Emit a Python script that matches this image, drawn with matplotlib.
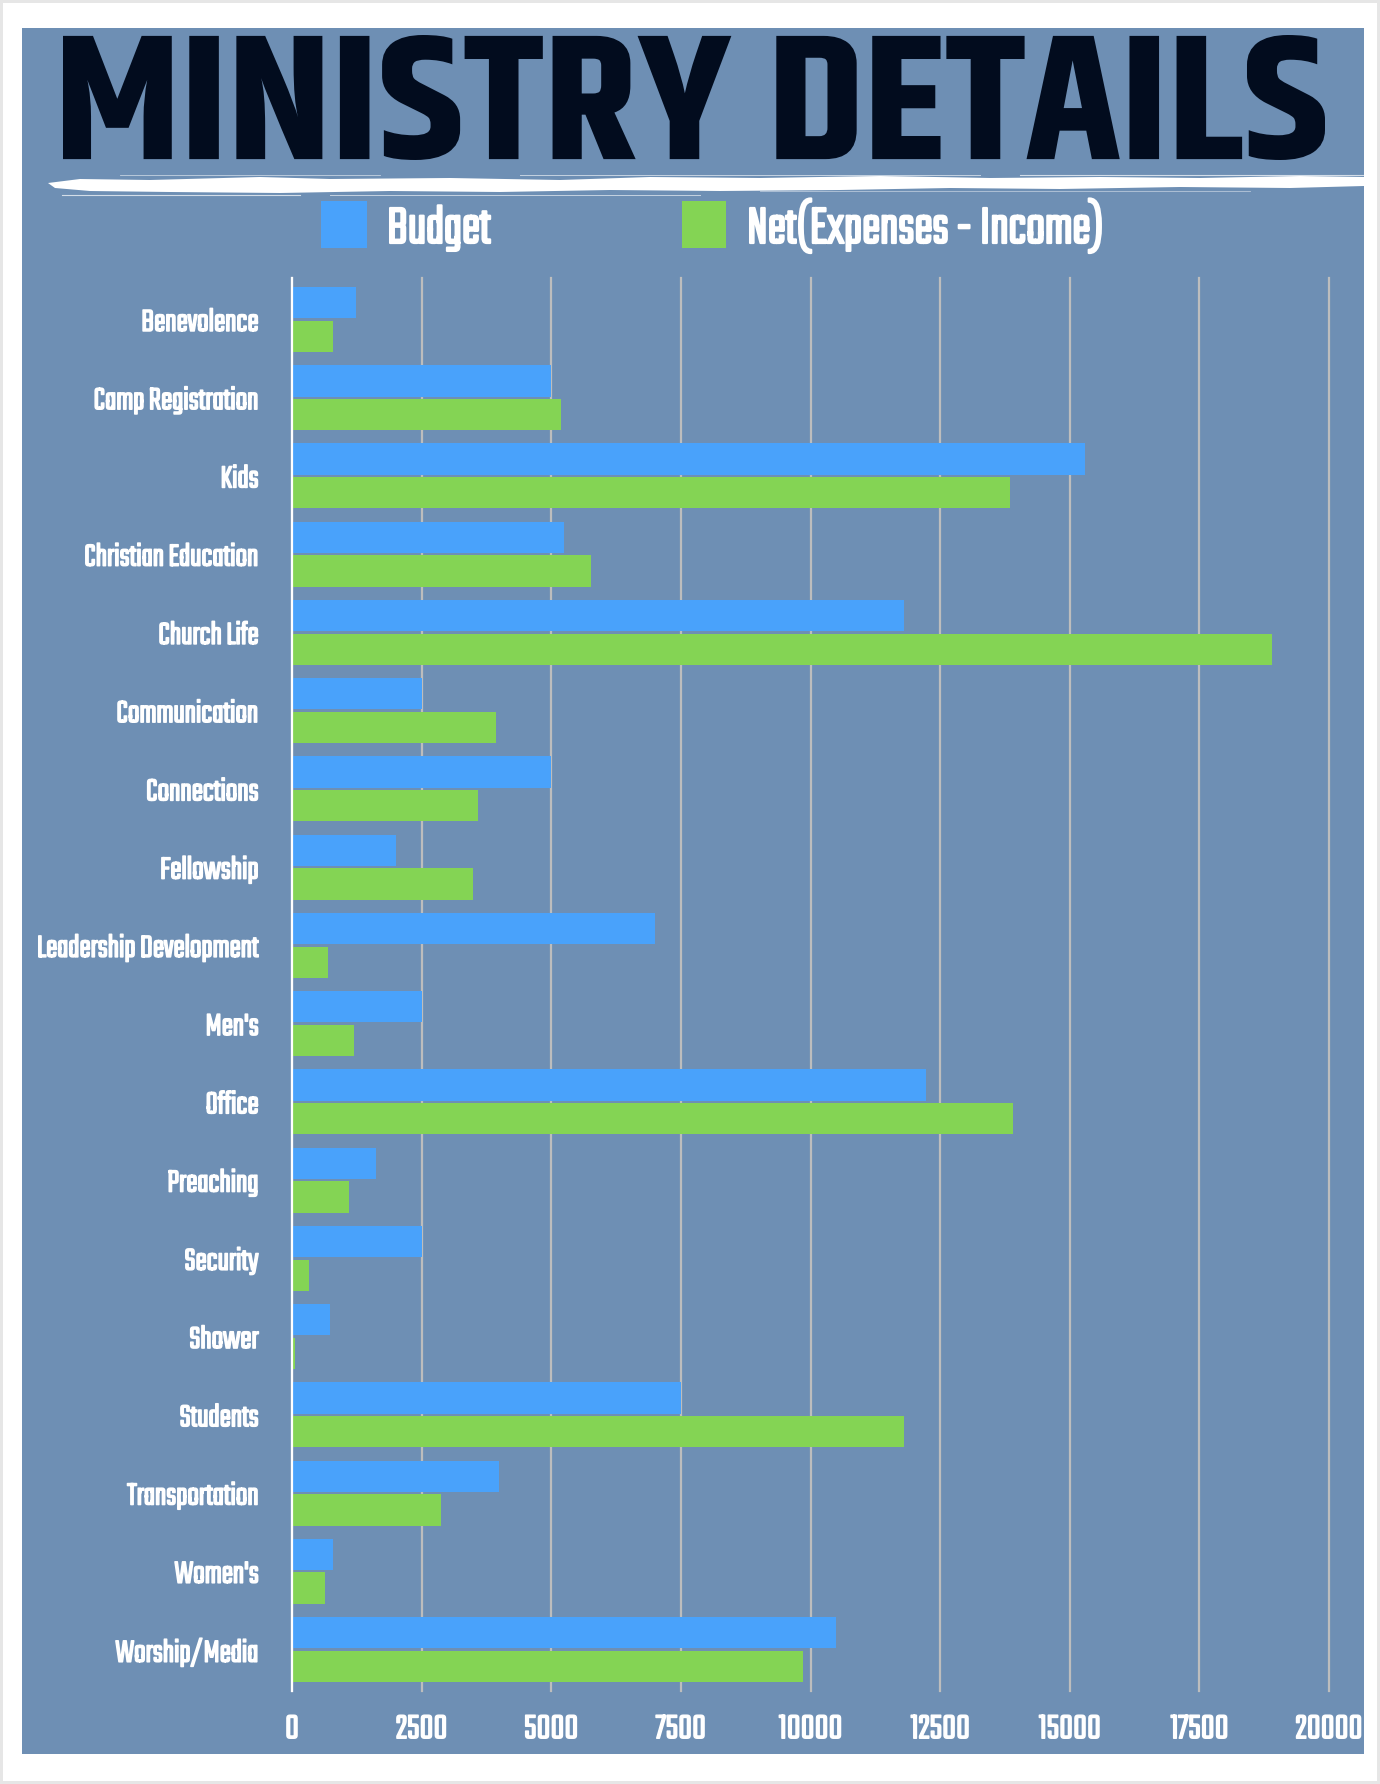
import numpy as np
import matplotlib
matplotlib.use("Agg")
import matplotlib.pyplot as plt
from matplotlib.patches import Rectangle, Polygon
from matplotlib.lines import Line2D
from matplotlib.patheffects import AbstractPathEffect
from matplotlib.transforms import Affine2D
from matplotlib.textpath import TextPath
from matplotlib.font_manager import FontProperties

# data
ministries = ["Benevolence", "Camp Registration", "Kids", "Christian Education",
              "Church Life", "Communication", "Connections", "Fellowship",
              "Leadership Development", "Men's", "Office", "Preaching", "Security",
              "Shower", "Students", "Transportation", "Women's", "Worship/Media"]
budget = [1230, 5000, 15300, 5240, 11800, 2500, 5000, 2000,
          7000, 2500, 12220, 1620, 2500, 740, 7500, 4000, 800, 10500]
net = [800, 5190, 13850, 5760, 18900, 3930, 3580, 3490,
       700, 1190, 13900, 1100, 330, 50, 11800, 2880, 630, 9850]
xticks = [0, 2500, 5000, 7500, 10000, 12500, 15000, 17500, 20000]

PANEL = "#6e8fb4"
BLUE = "#49a2fb"
GREEN = "#84d454"
W, H = 1380, 1784

LABEL_FONT = FontProperties(family="Teko")
TITLE_FONT = FontProperties(family="Khand", weight="bold")


class Squeeze(AbstractPathEffect):
    """rescale the drawn text (x about the ink edge, y about the baseline),
    with an optional outline of the same colour to make it a bit heavier"""
    def __init__(self, sx=1.0, sy=1.0, anchor="left", bold=0.0):
        super().__init__()
        self.sx, self.sy, self.anchor, self.bold = sx, sy, anchor, bold

    def draw_path(self, renderer, gc, tpath, affine, rgbFace=None):
        bb = tpath.get_extents(affine)
        a = {"left": bb.x0, "right": bb.x1, "center": (bb.x0 + bb.x1) / 2}[self.anchor]
        b = affine.transform((0, 0))[1]
        t = affine + Affine2D().translate(-a, -b).scale(self.sx, self.sy).translate(a, b)
        gc0 = renderer.new_gc()
        gc0.copy_properties(gc)
        if self.bold > 0:
            gc0.set_linewidth(self.bold)
            gc0.set_foreground(rgbFace)
            gc0.set_joinstyle("round")
        renderer.draw_path(gc0, tpath, t, rgbFace)
        gc0.restore()


def ink(s, prop):
    # ink box of a string for a font size of 1 px
    return TextPath((0, 0), s, size=100, prop=prop).get_extents().transformed(Affine2D().scale(0.01))


def size_for_cap(prop, cap_px):
    return cap_px / ink("H", prop).height


def fx(x):
    return x / W


def fy(y):
    return 1 - y / H


PT = 0.72  # points per pixel at dpi 100

# label sizes from the cap heights / widths in the reference
lab_px = size_for_cap(LABEL_FONT, 21.0)
lab_sx = 171 / (ink("Christian Education", LABEL_FONT).width * lab_px)
num_px = size_for_cap(LABEL_FONT, 23.0)
num_sx = 64 / (ink("20000", LABEL_FONT).width * num_px)
leg_px = size_for_cap(LABEL_FONT, 35)
leg_sx = 100 / (ink("Budget", LABEL_FONT).width * leg_px)

tb = ink("MINISTRY DETAILS", TITLE_FONT)
title_px = 1262 / tb.width
title_sy = 125 / (tb.height * title_px)

fig = plt.figure(figsize=(W / 100, H / 100), dpi=100)
fig.patch.set_facecolor("white")
fig.patch.set_edgecolor("#e6e6e6")
fig.patch.set_linewidth(3)

# blue panel
fig.add_artist(Rectangle((fx(22), fy(1754)), fx(1364) - fx(22), fy(28) - fy(1754),
                         transform=fig.transFigure, facecolor=PANEL, edgecolor="none", zorder=0))

# title
fig.text(fx(63 - tb.x0 * title_px), fy(160 + tb.y0 * title_px * title_sy), "MINISTRY DETAILS",
         fontproperties=TITLE_FONT, fontsize=title_px * PT, color="#020c1e",
         ha="left", va="baseline", path_effects=[Squeeze(1.0, title_sy, "left")])

# brush stroke under the title
top = [(48, 183), (80, 179), (150, 180), (260, 177), (330, 179), (450, 178), (560, 180),
       (650, 177), (760, 178), (880, 176), (990, 178), (1100, 177), (1200, 178), (1300, 176),
       (1364, 177)]
bot = [(1364, 186), (1290, 188), (1180, 187), (1060, 189), (950, 188), (840, 190),
       (720, 191), (610, 190), (500, 192), (390, 191), (280, 193), (170, 192), (90, 191), (55, 188)]
fig.add_artist(Polygon([(fx(a), fy(b)) for a, b in top + bot], closed=True,
                       transform=fig.transFigure, facecolor="white", edgecolor="none"))
for (x0, x1, yy, lw, al) in [(62, 300, 195, 0.8, 0.7), (330, 700, 194.5, 0.7, 0.6),
                             (120, 380, 175, 0.6, 0.6), (520, 980, 175, 0.7, 0.6),
                             (1020, 1364, 174.5, 0.8, 0.7), (760, 1250, 191, 0.6, 0.5)]:
    fig.add_artist(Line2D([fx(x0), fx(x1)], [fy(yy), fy(yy)], transform=fig.transFigure,
                          color="white", lw=lw, alpha=al))

# legend (drawn by hand to match the placement)
for x0, x1, c, label, tx in [(321, 367, BLUE, "Budget", 387),
                             (682, 726, GREEN, "Net(Expenses - Income)", 747)]:
    fig.add_artist(Rectangle((fx(x0), fy(248)), fx(x1) - fx(x0), fy(201) - fy(248),
                             transform=fig.transFigure, facecolor=c, edgecolor="none"))
    fig.text(fx(tx), fy(243), label, fontproperties=LABEL_FONT, fontsize=leg_px * PT,
             color="white", ha="left", va="baseline",
             path_effects=[Squeeze(leg_sx, 1.0, "left", bold=1.6)])

ax = fig.add_axes([fx(292), fy(1691), fx(1329) - fx(292), fy(278) - fy(1691)])
ax.set_facecolor("none")

y = np.arange(len(ministries))
h = 0.4
ax.barh(y - 0.215, budget, height=h, color=BLUE, label="Budget", zorder=2)
ax.barh(y + 0.215, net, height=h, color=GREEN, label="Net(Expenses - Income)", zorder=2)

ax.set_ylim(len(ministries) - 0.47, -0.53)
ax.set_xlim(0, 20000)
ax.set_xticks(xticks)
ax.set_yticks(y)
ax.set_yticklabels(ministries)
ax.grid(axis="x", color="#bdbdbd", lw=1.6, zorder=1)
ax.set_axisbelow(True)
for g in ax.get_xgridlines():
    g.set_clip_on(False)

for s in ["top", "right", "bottom"]:
    ax.spines[s].set_visible(False)
ax.spines["left"].set_color("white")
ax.spines["left"].set_linewidth(1.6)
ax.spines["left"].set_zorder(3)

ax.tick_params(axis="both", length=0)
ax.tick_params(axis="y", pad=24)
ax.tick_params(axis="x", pad=16)
for t in ax.get_yticklabels():
    t.set_fontproperties(LABEL_FONT)
    t.set_fontsize(lab_px * PT)
    t.set_color("white")
    t.set_path_effects([Squeeze(lab_sx, 1.0, "right", bold=1.1)])
for t in ax.get_xticklabels():
    t.set_fontproperties(LABEL_FONT)
    t.set_fontsize(num_px * PT)
    t.set_color("white")
    t.set_path_effects([Squeeze(num_sx, 1.0, "center", bold=1.1)])

fig.savefig("out.png", dpi=100)
